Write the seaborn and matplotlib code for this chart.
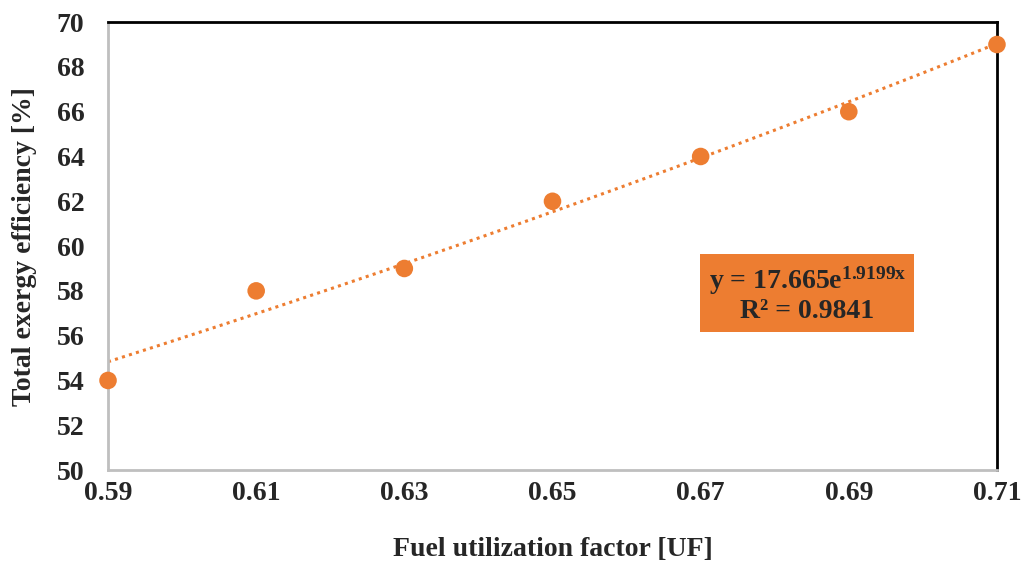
import numpy as np
import pandas as pd
import matplotlib
matplotlib.use("Agg")
import matplotlib.pyplot as plt
import seaborn as sns

uf = [0.59, 0.61, 0.63, 0.65, 0.67, 0.69, 0.71]
efficiency = [54, 58, 59, 62, 64, 66, 69]
fit_a = 17.665
fit_b = 1.9199
r2 = 0.9841
xticks = [0.59, 0.61, 0.63, 0.65, 0.67, 0.69, 0.71]
yticks = [50, 52, 54, 56, 58, 60, 62, 64, 66, 68, 70]

sns.set_style("white")
plt.rcParams['font.family'] = ['Liberation Serif', 'DejaVu Serif']
plt.rcParams['font.weight'] = 'bold'
plt.rcParams['mathtext.fontset'] = 'custom'
plt.rcParams['mathtext.rm'] = 'Liberation Serif:bold'
plt.rcParams['mathtext.bf'] = 'Liberation Serif:bold'
plt.rcParams['mathtext.it'] = 'Liberation Serif:bold'

orange = "#ED7D31"
df = pd.DataFrame({"UF": uf, "Eff": efficiency})

fig = plt.figure(figsize=(10.22, 5.67), dpi=100)
ax = fig.add_axes([0.1057, 0.171, 0.8698, 0.790])

xs = np.linspace(min(uf), max(uf), 200)
ys = fit_a * np.exp(fit_b * xs)
sns.lineplot(x=xs, y=ys, ax=ax, color=orange, linestyle=(0, (1, 1.4)), linewidth=2.2)
sns.scatterplot(data=df, x="UF", y="Eff", ax=ax, color=orange, s=160, edgecolor="none", zorder=5, clip_on=False)

ax.set_xlim(0.59, 0.71)
ax.set_ylim(50, 70)
ax.set_xticks(xticks)
ax.set_xticklabels([f"{t:.2f}" for t in xticks])
ax.set_yticks(yticks)
ax.tick_params(axis='x', labelsize=20, length=0, pad=8)
ax.tick_params(axis='y', labelsize=20, length=0, pad=17)
for lab in ax.get_xticklabels() + ax.get_yticklabels():
    lab.set_fontweight('bold')
ax.set_xlabel("Fuel utilization factor [UF]", fontsize=20, fontweight='bold', labelpad=22)
ax.set_ylabel("Total exergy efficiency [%]", fontsize=20, fontweight='bold', labelpad=14)

for side in ["top", "right"]:
    ax.spines[side].set_color("black")
    ax.spines[side].set_linewidth(2.0)
for side in ["left", "bottom"]:
    ax.spines[side].set_color("#BFBFBF")
    ax.spines[side].set_linewidth(2.0)

ax.text(0.6844, 57.85, f"y = {fit_a}e$^{{{fit_b}x}}$\nR² = {r2}",
        fontsize=20, fontweight='bold', ha='center', va='center', linespacing=1.1,
        bbox=dict(boxstyle="square,pad=0.3", facecolor=orange, edgecolor="none"))

fig.savefig("out.png", dpi=100)
